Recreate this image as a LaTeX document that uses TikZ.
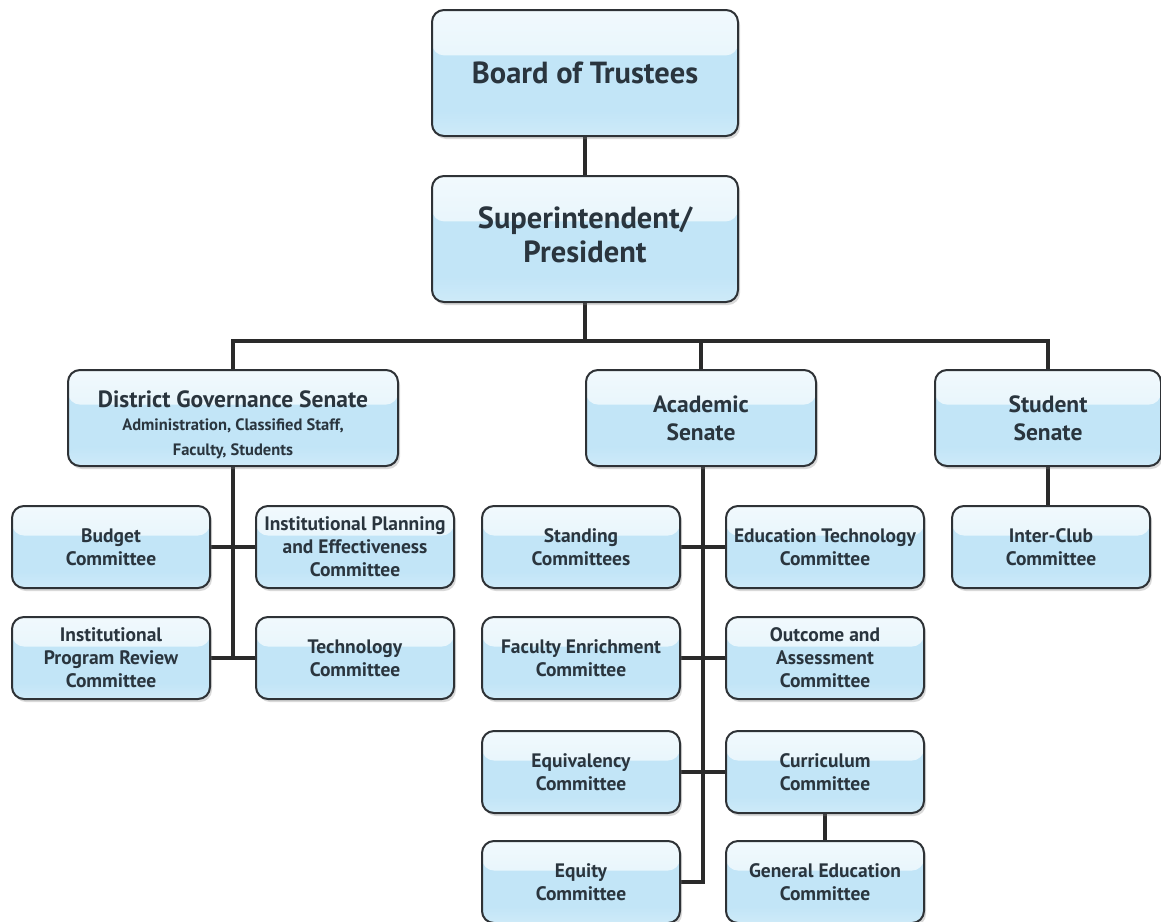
\documentclass[tikz,border=0pt]{standalone}
\usepackage{fontspec}
\setmainfont{PT Sans}
\usetikzlibrary{shadows,calc,backgrounds}
\definecolor{boxline}{HTML}{2E3236}
\definecolor{boxfill}{HTML}{C2E5F7}
\definecolor{boxtop}{HTML}{F1F9FD}
\definecolor{boxmid}{HTML}{DAF0FA}
\definecolor{textc}{HTML}{2A353E}
\definecolor{connc}{HTML}{2A2A2A}
\tikzset{
  orgbox/.style={draw=boxline, line width=2pt, rounded corners=12pt, fill=boxfill,
    align=center, text=textc, inner sep=0pt, font=\bfseries,
    drop shadow={opacity=0.3, shadow xshift=2pt, shadow yshift=-3pt},
    path picture={
      \shade[top color=boxtop, bottom color=boxmid]
        (path picture bounding box.north west) rectangle
        ($(path picture bounding box.north east)!0.36!(path picture bounding box.south east)$);
      \shade[top color=boxfill, bottom color=boxfill!80!white]
        ($(path picture bounding box.north west)!0.8!(path picture bounding box.south west)$) rectangle
        (path picture bounding box.south east);
    }},
  bigbox/.style={orgbox, minimum width=306pt, minimum height=126pt, font=\fontsize{30.5}{34}\selectfont\bfseries},
  senbox/.style={orgbox, minimum height=96pt, font=\fontsize{23.5}{28}\selectfont\bfseries},
  combox/.style={orgbox, minimum width=198pt, minimum height=82pt, font=\fontsize{19.5}{23}\selectfont\bfseries},
  conn/.style={draw=connc, line width=4.5pt},
}
\begin{document}
\begin{tikzpicture}[x=1pt,y=-1pt]
\clip (0,0) rectangle (1161,921);
\useasboundingbox (0,0) rectangle (1161,921);
\coordinate (bus) at (585,341);
\node[bigbox] (bot) at (585,73) {Board of Trustees};
\node[bigbox] (sup) at (585,239) {\raisebox{2pt}{\begin{tabular}{@{}c@{}}Superintendent/\\President\end{tabular}}};
\node[senbox, minimum width=330pt] (dgs) at (233,418) {\rule{0pt}{30pt}District Governance Senate\\[-5pt]{\fontsize{16.5}{25}\selectfont Administration, Classified Staff,}\\[-3pt]{\fontsize{16.5}{21}\selectfont Faculty, Students}};
\node[senbox, minimum width=230pt] (ac) at (701,418) {Academic\\Senate};
\node[senbox, minimum width=226pt] (stu) at (1048,418) {Student\\Senate};
\node[combox] (ic) at (1051,547) {Inter-Club\\Committee};
% DGS committees
\node[combox] (bud) at (111,547) {Budget\\Committee};
\node[combox] (ipe) at (355,547) {Institutional Planning\\and Effectiveness\\Committee};
\node[combox] (ipr) at (111,658) {Institutional\\Program Review\\Committee};
\node[combox] (tec) at (355,658) {Technology\\Committee};
% Academic committees
\node[combox] (std) at (581,547) {Standing\\Committees};
\node[combox] (edt) at (825,547) {Education Technology\\Committee};
\node[combox] (fec) at (581,658) {Faculty Enrichment\\Committee};
\node[combox] (oac) at (825,658) {Outcome and\\Assessment\\Committee};
\node[combox] (eqv) at (581,772) {Equivalency\\Committee};
\node[combox] (cur) at (825,772) {Curriculum\\Committee};
\node[combox] (eqt) at (581,882) {Equity\\Committee};
\node[combox] (gen) at (825,882) {General Education\\Committee};
\begin{scope}[on background layer]
\draw[conn] (bot.south) -- (sup.north);
\draw[conn] (sup.south) -- (sup.south |- bus);
\draw[conn] (dgs.north) -- (dgs.north |- bus) -- (stu.north |- bus) -- (stu.north);
\draw[conn] (ac.north) -- (ac.north |- bus);
\draw[conn] (dgs.south) -- (dgs.south |- ipr.east);
\draw[conn] (bud.east) -- (ipe.west);
\draw[conn] (ipr.east) -- (tec.west);
\draw[conn] ([xshift=2pt]ac.south) -- ([xshift=2pt]ac.south |- eqt.east) -- (eqt.east);
\draw[conn] (std.east) -- (edt.west);
\draw[conn] (fec.east) -- (oac.west);
\draw[conn] (eqv.east) -- (cur.west);
\draw[conn] (cur.south) -- (gen.north);
\draw[conn] (stu.south) -- (stu.south |- ic.north);
\end{scope}
\end{tikzpicture}
\end{document}
